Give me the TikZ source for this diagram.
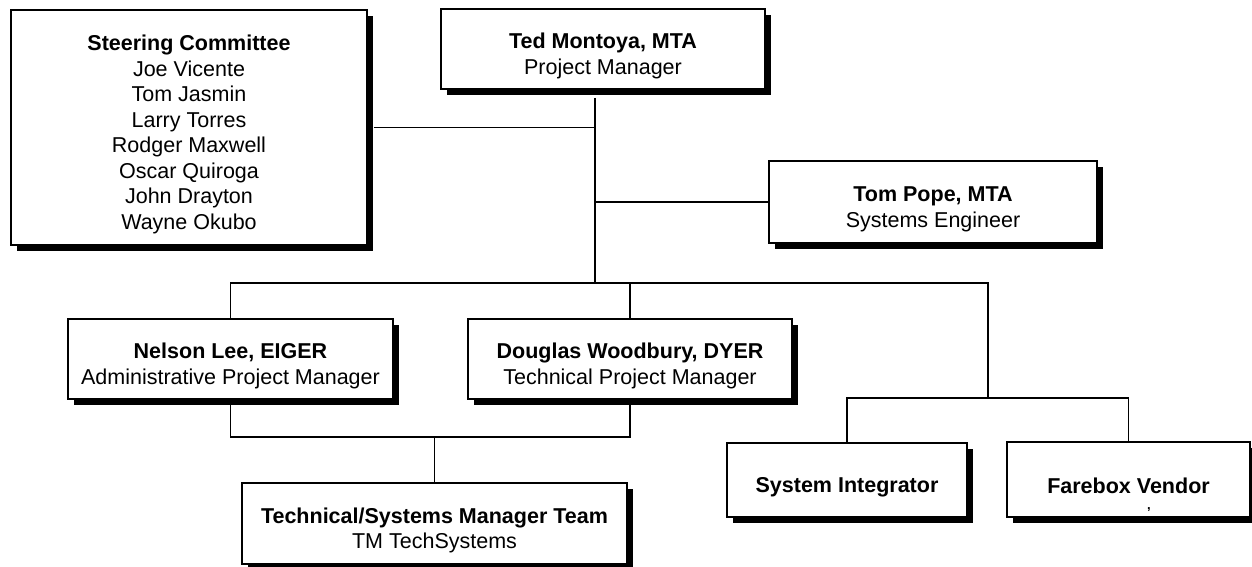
\documentclass[tikz,border=0pt]{standalone}
\usepackage{fontspec}
\setmainfont{Liberation Sans}
\usetikzlibrary{shadows}
\newcommand{\dnstrut}{\rule{0pt}{29pt}}
\begin{document}
\begin{tikzpicture}[x=1pt,y=-1pt,
  orgbox/.style={draw=black, line width=1.6pt, fill=white, align=center,
    inner sep=0pt, font=\fontsize{21.5pt}{25.5pt}\selectfont,
    drop shadow={shadow xshift=6pt, shadow yshift=-6pt, fill=black, opacity=1}},
  conn/.style={draw=black, line width=1.8pt}]
\useasboundingbox (0,0) rectangle (1252,567);
\fill[white] (0,0) rectangle (1252,567);

\node[orgbox, minimum width=356pt, minimum height=235pt] (steer) at (189,127.5)
  {\dnstrut\textbf{Steering Committee}\\Joe Vicente\\Tom Jasmin\\Larry Torres\\Rodger Maxwell\\Oscar Quiroga\\John Drayton\\Wayne Okubo};
\node[orgbox, minimum width=324pt, minimum height=80pt] (ted) at (603,49)
  {\dnstrut\textbf{Ted Montoya, MTA}\\Project Manager};
\node[orgbox, minimum width=328pt, minimum height=82pt] (pope) at (933,202)
  {\dnstrut\textbf{Tom Pope, MTA}\\Systems Engineer};
\node[orgbox, minimum width=325pt, minimum height=80pt] (nelson) at (230.5,359)
  {\dnstrut\textbf{Nelson Lee, EIGER}\\Administrative Project Manager};
\node[orgbox, minimum width=324pt, minimum height=80pt] (douglas) at (630,359)
  {\dnstrut\textbf{Douglas Woodbury, DYER}\\Technical Project Manager};
\node[orgbox, minimum width=385pt, minimum height=81pt] (tech) at (434.5,523.5)
  {\dnstrut\textbf{Technical/Systems Manager Team}\\TM TechSystems};
\node[orgbox, minimum width=240pt, minimum height=74pt] (si) at (847,480)
  {\dnstrut\textbf{System Integrator}};
\node[orgbox, minimum width=243pt, minimum height=75pt] (fb) at (1128.5,479.5)
  {\dnstrut\textbf{Farebox Vendor}};
\node[font=\fontsize{13pt}{13pt}\selectfont\bfseries, inner sep=0pt] (tick) at (1149,510) {,};

\coordinate (hub) at (595,283);
\coordinate (busR) at (988,283);
\coordinate (vend) at (988,398);
\coordinate (low) at (432,437);

% main trunk
\draw[conn] (ted.south -| hub) ++(0,8) -- (hub);
\draw[conn] (steer.east) ++(6,0) -- (steer.east -| hub);
\draw[conn] (pope.west) -- (pope.west -| hub);
% bus
\draw[conn] (nelson.north) -- (nelson.north |- hub) -- (busR) -- (vend);
\draw[conn] (douglas.north) -- (douglas.north |- hub);
% right branch
\draw[conn] (si.north) -- (si.north |- vend) -- (fb.north |- vend) -- (fb.north);
% lower branch
\draw[conn] (nelson.south) -- (nelson.south |- low) -- (douglas.south |- low) -- (douglas.south);
\draw[conn] (tech.north) -- (tech.north |- low);
\end{tikzpicture}
\end{document}
